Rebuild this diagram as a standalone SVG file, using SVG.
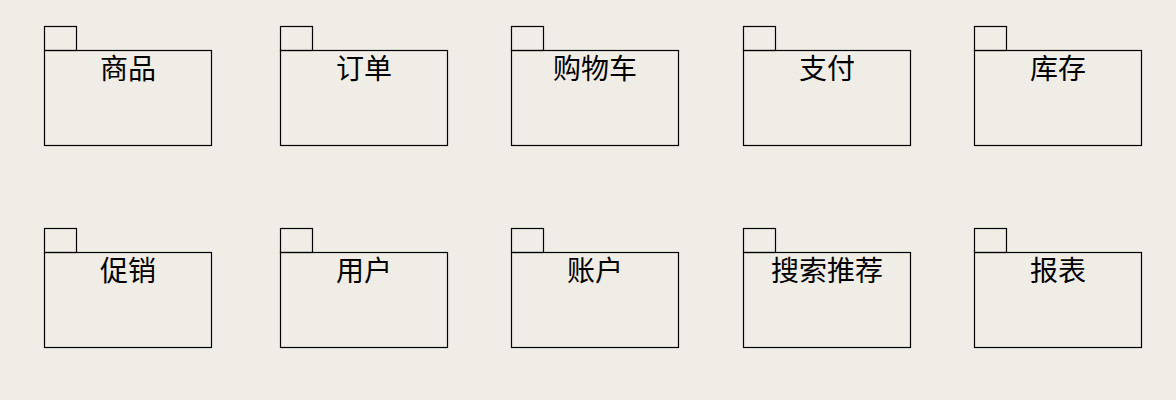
<svg xmlns="http://www.w3.org/2000/svg" width="1176" height="400" viewBox="0 0 1176 400">
<style>
.tab,.body{fill:none;stroke:#000;stroke-width:1.2}
.lbl{font-family:"Noto Sans CJK SC","Noto Sans",sans-serif;font-size:28px;fill:#000;text-anchor:middle}
</style>
<rect width="1176" height="400" fill="#F0ECE6"/>
<g id="connectors"></g>
<g id="pkg-shangpin"><rect class="tab" x="44.5" y="26.5" width="32" height="24"/><rect class="body" x="44.5" y="50.5" width="167" height="95"/><text class="lbl" x="128" y="79">商品</text></g>
<g id="pkg-dingdan"><rect class="tab" x="280.5" y="26.5" width="32" height="24"/><rect class="body" x="280.5" y="50.5" width="167" height="95"/><text class="lbl" x="364" y="79">订单</text></g>
<g id="pkg-gouwuche"><rect class="tab" x="511.5" y="26.5" width="32" height="24"/><rect class="body" x="511.5" y="50.5" width="167" height="95"/><text class="lbl" x="595" y="79">购物车</text></g>
<g id="pkg-zhifu"><rect class="tab" x="743.5" y="26.5" width="32" height="24"/><rect class="body" x="743.5" y="50.5" width="167" height="95"/><text class="lbl" x="827" y="79">支付</text></g>
<g id="pkg-kucun"><rect class="tab" x="974.5" y="26.5" width="32" height="24"/><rect class="body" x="974.5" y="50.5" width="167" height="95"/><text class="lbl" x="1058" y="79">库存</text></g>
<g id="pkg-cuxiao"><rect class="tab" x="44.5" y="228.5" width="32" height="24"/><rect class="body" x="44.5" y="252.5" width="167" height="95"/><text class="lbl" x="128" y="281">促销</text></g>
<g id="pkg-yonghu"><rect class="tab" x="280.5" y="228.5" width="32" height="24"/><rect class="body" x="280.5" y="252.5" width="167" height="95"/><text class="lbl" x="364" y="281">用户</text></g>
<g id="pkg-zhanghu"><rect class="tab" x="511.5" y="228.5" width="32" height="24"/><rect class="body" x="511.5" y="252.5" width="167" height="95"/><text class="lbl" x="595" y="281">账户</text></g>
<g id="pkg-sousuo"><rect class="tab" x="743.5" y="228.5" width="32" height="24"/><rect class="body" x="743.5" y="252.5" width="167" height="95"/><text class="lbl" x="827" y="281">搜索推荐</text></g>
<g id="pkg-baobiao"><rect class="tab" x="974.5" y="228.5" width="32" height="24"/><rect class="body" x="974.5" y="252.5" width="167" height="95"/><text class="lbl" x="1058" y="281">报表</text></g>
</svg>
